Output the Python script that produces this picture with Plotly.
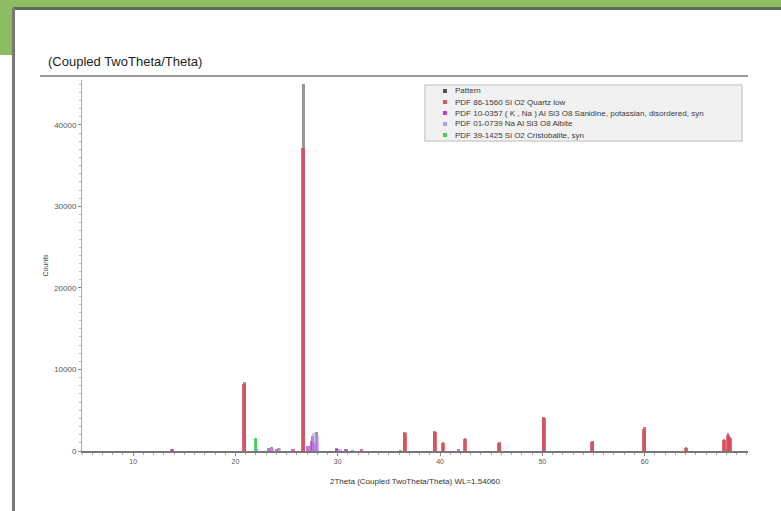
import plotly.graph_objects as go

# ---------------- data ----------------
pattern_pos = [13.8, 20.86, 22.0, 23.5, 24.2, 26.64, 27.5, 27.9, 29.9, 30.8, 36.54, 39.47, 40.29,
               42.45, 45.79, 50.14, 54.87, 59.96, 64.03, 67.74, 68.14, 68.31]
pattern_h = [250, 8500, 1600, 450, 400, 45000, 1900, 2300, 350, 300, 2300, 2450, 1100,
             1600, 1100, 4200, 1200, 2900, 500, 1500, 2200, 1700]

quartz_pos = [20.86, 26.64, 36.54, 39.47, 40.29, 42.45, 45.79, 50.14, 54.87, 59.96, 64.03, 67.74, 68.14, 68.31]
quartz_h = [8200, 37200, 2200, 2300, 1000, 1500, 1000, 4000, 1100, 2700, 400, 1400, 2000, 1600]

sanidine_pos = [13.8, 23.3, 24.0, 25.6, 27.1, 27.5, 27.8, 29.9, 30.8, 32.3, 41.8]
sanidine_h = [200, 350, 300, 250, 600, 1200, 1000, 300, 250, 200, 250]

albite_pos = [22.1, 23.6, 24.3, 27.7, 28.0, 30.2]
albite_h = [300, 400, 350, 2200, 1800, 250]

cristobalite_pos = [22.0, 31.4, 36.1]
cristobalite_h = [1600, 150, 150]

legend_names = [
    "Pattern",
    "PDF 86-1560 Si O2 Quartz low",
    "PDF 10-0357 ( K , Na ) Al Si3 O8 Sanidine, potassian, disordered, syn",
    "PDF 01-0739 Na Al Si3 O8 Albite",
    "PDF 39-1425 Si O2 Cristobalite, syn",
]
legend_colors = ["#555555", "#e0505e", "#c03cc8", "#b49cf0", "#44d05a"]

y_ticks = [0, 10000, 20000, 30000, 40000]
x_ticks = [10, 20, 30, 40, 50, 60]

# ---------------- figure ----------------
W, H = 781, 511
L, R, T, B = 82, 33, 80, 60
pw, ph = W - L - R, H - T - B


def px(x):
    return (x - L) / pw


def py(y):
    return 1 - (y - T) / ph


fig = go.Figure()
fig.add_trace(go.Bar(x=pattern_pos, y=pattern_h, width=0.26, name=legend_names[0],
                     marker=dict(color="rgba(125,125,125,0.8)", line=dict(width=0))))
fig.add_trace(go.Bar(x=quartz_pos, y=quartz_h, width=0.38, name=legend_names[1],
                     marker=dict(color="rgba(222,70,85,0.8)", line=dict(width=0))))
fig.add_trace(go.Bar(x=sanidine_pos, y=sanidine_h, width=0.35, name=legend_names[2],
                     marker=dict(color="rgba(190,50,200,0.7)", line=dict(width=0))))
fig.add_trace(go.Bar(x=albite_pos, y=albite_h, width=0.4, name=legend_names[3],
                     marker=dict(color="rgba(180,150,240,0.6)", line=dict(width=0))))
fig.add_trace(go.Bar(x=cristobalite_pos, y=cristobalite_h, width=0.3, name=legend_names[4],
                     marker=dict(color="rgba(60,210,90,0.85)", line=dict(width=0))))

shapes = []
# green frame band (top) and left strip
shapes.append(dict(type="rect", xref="paper", yref="paper", x0=px(0), x1=px(W), y0=py(0), y1=py(7),
                   fillcolor="#8cbd62", line=dict(width=0), layer="above"))
shapes.append(dict(type="rect", xref="paper", yref="paper", x0=px(0), x1=px(13), y0=py(0), y1=py(55),
                   fillcolor="#8cbd62", line=dict(width=0), layer="above"))
shapes.append(dict(type="rect", xref="paper", yref="paper", x0=px(13), x1=px(W), y0=py(7), y1=py(10),
                   fillcolor="#5f6b58", line=dict(width=0), layer="above"))
shapes.append(dict(type="rect", xref="paper", yref="paper", x0=px(12), x1=px(15), y0=py(8), y1=py(H),
                   fillcolor="#777777", line=dict(width=0), layer="above"))
# title separator
shapes.append(dict(type="line", xref="paper", yref="paper", x0=px(40), x1=px(748), y0=py(76), y1=py(76),
                   line=dict(color="#9a9a9a", width=2)))
# legend box
lx0, lx1, ly0, ly1 = 425, 742, 85, 141
shapes.append(dict(type="rect", xref="paper", yref="paper", x0=px(lx0), x1=px(lx1), y0=py(ly0), y1=py(ly1),
                   fillcolor="#f1f1f1", line=dict(color="#cfcfcf", width=1.5)))

annotations = []
row_y = [91, 102, 113, 124, 135]
for name, col, yy in zip(legend_names, legend_colors, row_y):
    shapes.append(dict(type="rect", xref="paper", yref="paper", x0=px(443), x1=px(447), y0=py(yy - 2),
                       y1=py(yy + 2), fillcolor=col, line=dict(width=0)))
    annotations.append(dict(text=name, xref="paper", yref="paper", x=px(453), y=py(yy), xanchor="left",
                            yanchor="middle", showarrow=False, font=dict(size=8, color="#3a3a3a")))

annotations.append(dict(text="(Coupled TwoTheta/Theta)", xref="paper", yref="paper", x=px(46), y=py(61),
                        xanchor="left", yanchor="middle", showarrow=False,
                        font=dict(size=13, color="#1e1e1e", family="Liberation Sans, Arial")))

fig.update_layout(
    width=W, height=H,
    margin=dict(l=L, r=R, t=T, b=B),
    paper_bgcolor="white", plot_bgcolor="white",
    barmode="overlay", bargap=0,
    showlegend=False,
    shapes=shapes, annotations=annotations,
    font=dict(family="Liberation Sans, Arial", color="#444444"),
)
fig.update_xaxes(range=[5, 70.1], tickvals=x_ticks, ticks="outside", ticklen=3, tickcolor="#888",
                 showline=True, linecolor="#777", linewidth=1.5, showgrid=False, zeroline=False,
                 tickfont=dict(size=7, color="#555"),
                 minor=dict(dtick=1, ticks="outside", ticklen=2, tickcolor="#aaa"),
                 title=dict(text="2Theta (Coupled TwoTheta/Theta) WL=1.54060", font=dict(size=8, color="#333"),
                            standoff=14))
fig.update_yaxes(range=[0, 45500], tickvals=y_ticks, tickformat="d", ticks="outside", ticklen=3,
                 tickcolor="#888", showline=True, linecolor="#aaa", linewidth=1, showgrid=False,
                 zeroline=False, tickfont=dict(size=8, color="#555"),
                 minor=dict(dtick=1000, ticks="outside", ticklen=2, tickcolor="#bbb"),
                 title=dict(text="Counts", font=dict(size=7, color="#444"), standoff=4))

fig.write_html("out.html")
